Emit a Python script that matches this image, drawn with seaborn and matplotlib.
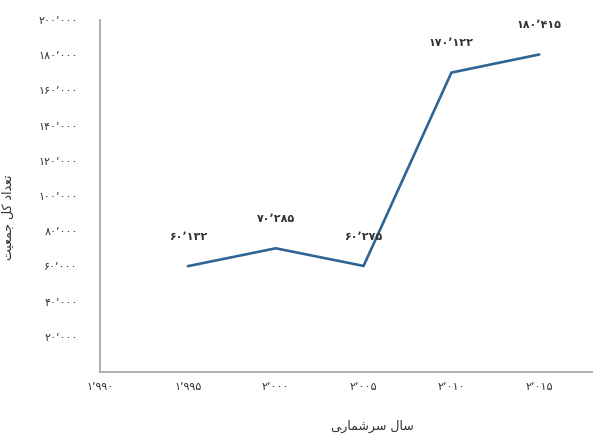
import matplotlib
matplotlib.use("Agg")
import matplotlib.pyplot as plt
import seaborn as sns
import pandas as pd

# ---- data ----
years = [1995, 2000, 2005, 2010, 2015]
population = [60132, 70285, 60275, 170122, 180415]
point_labels = ["۶۰٬۱۳۲", "۷۰٬۲۸۵", "۶۰٬۲۷۵", "۱۷۰٬۱۲۲", "۱۸۰٬۴۱۵"]
x_ticks = [1990, 1995, 2000, 2005, 2010, 2015]
x_tick_labels = ["۱٬۹۹۰", "۱٬۹۹۵", "۲٬۰۰۰", "۲٬۰۰۵", "۲٬۰۱۰", "۲٬۰۱۵"]
y_ticks = [20000, 40000, 60000, 80000, 100000, 120000, 140000, 160000, 180000, 200000]
y_tick_labels = ["۲۰٬۰۰۰", "۴۰٬۰۰۰", "۶۰٬۰۰۰", "۸۰٬۰۰۰", "۱۰۰٬۰۰۰",
                 "۱۲۰٬۰۰۰", "۱۴۰٬۰۰۰", "۱۶۰٬۰۰۰", "۱۸۰٬۰۰۰", "۲۰۰٬۰۰۰"]
# Persian titles, written in visual order with Arabic presentation forms
x_title = "\uFEF0\uFEAD\uFE8E\uFEE4\uFEB7\uFEAE\uFEB3 \uFEDD\uFE8E\uFEB3"          # سال سرشماری
y_title = "\uFE96\uFEF4\uFECC\uFEE4\uFE9F \uFEDE\uFEDB \uFEA9\uFE8D\uFEAA\uFECC\uFE97"  # تعداد کل جمعیت

df = pd.DataFrame({"year": years, "population": population})

sns.set_style("white")
plt.rcParams["font.family"] = ["DejaVu Sans"]

fig = plt.figure(figsize=(5.96, 4.37), dpi=100)
ax = fig.add_axes([100 / 596, 65 / 437, 492 / 596, 352 / 437])

line_color = "#2F6496"
sns.lineplot(data=df, x="year", y="population", ax=ax, color=line_color,
             linewidth=1.9, legend=False)

for xv, yv, lab in zip(years, population, point_labels):
    ax.annotate(lab, (xv, yv), xytext=(0, 21), textcoords="offset points",
                ha="center", va="center", fontsize=8, fontweight="bold",
                color="#333333")

ax.set_xlim(1990, 2018)
ax.set_ylim(0, 200000)
ax.set_xticks(x_ticks)
ax.set_xticklabels(x_tick_labels)
ax.set_yticks(y_ticks)
ax.set_yticklabels(y_tick_labels)
ax.tick_params(axis="both", length=0, labelsize=8, labelcolor="#333333")
ax.tick_params(axis="y", pad=16)
ax.tick_params(axis="x", pad=7)

ax.set_xlabel(x_title, fontsize=9, color="#303030")
ax.set_ylabel(y_title, fontsize=9, color="#303030")
ax.xaxis.set_label_coords((372 - 100) / 492, -0.135)
ax.yaxis.set_label_coords((15 - 100) / 492, 0.44)

for side in ["top", "right"]:
    ax.spines[side].set_visible(False)
for side in ["left", "bottom"]:
    ax.spines[side].set_color("#a8a8a8")
    ax.spines[side].set_linewidth(1.3)

fig.savefig("out.png", dpi=100)
